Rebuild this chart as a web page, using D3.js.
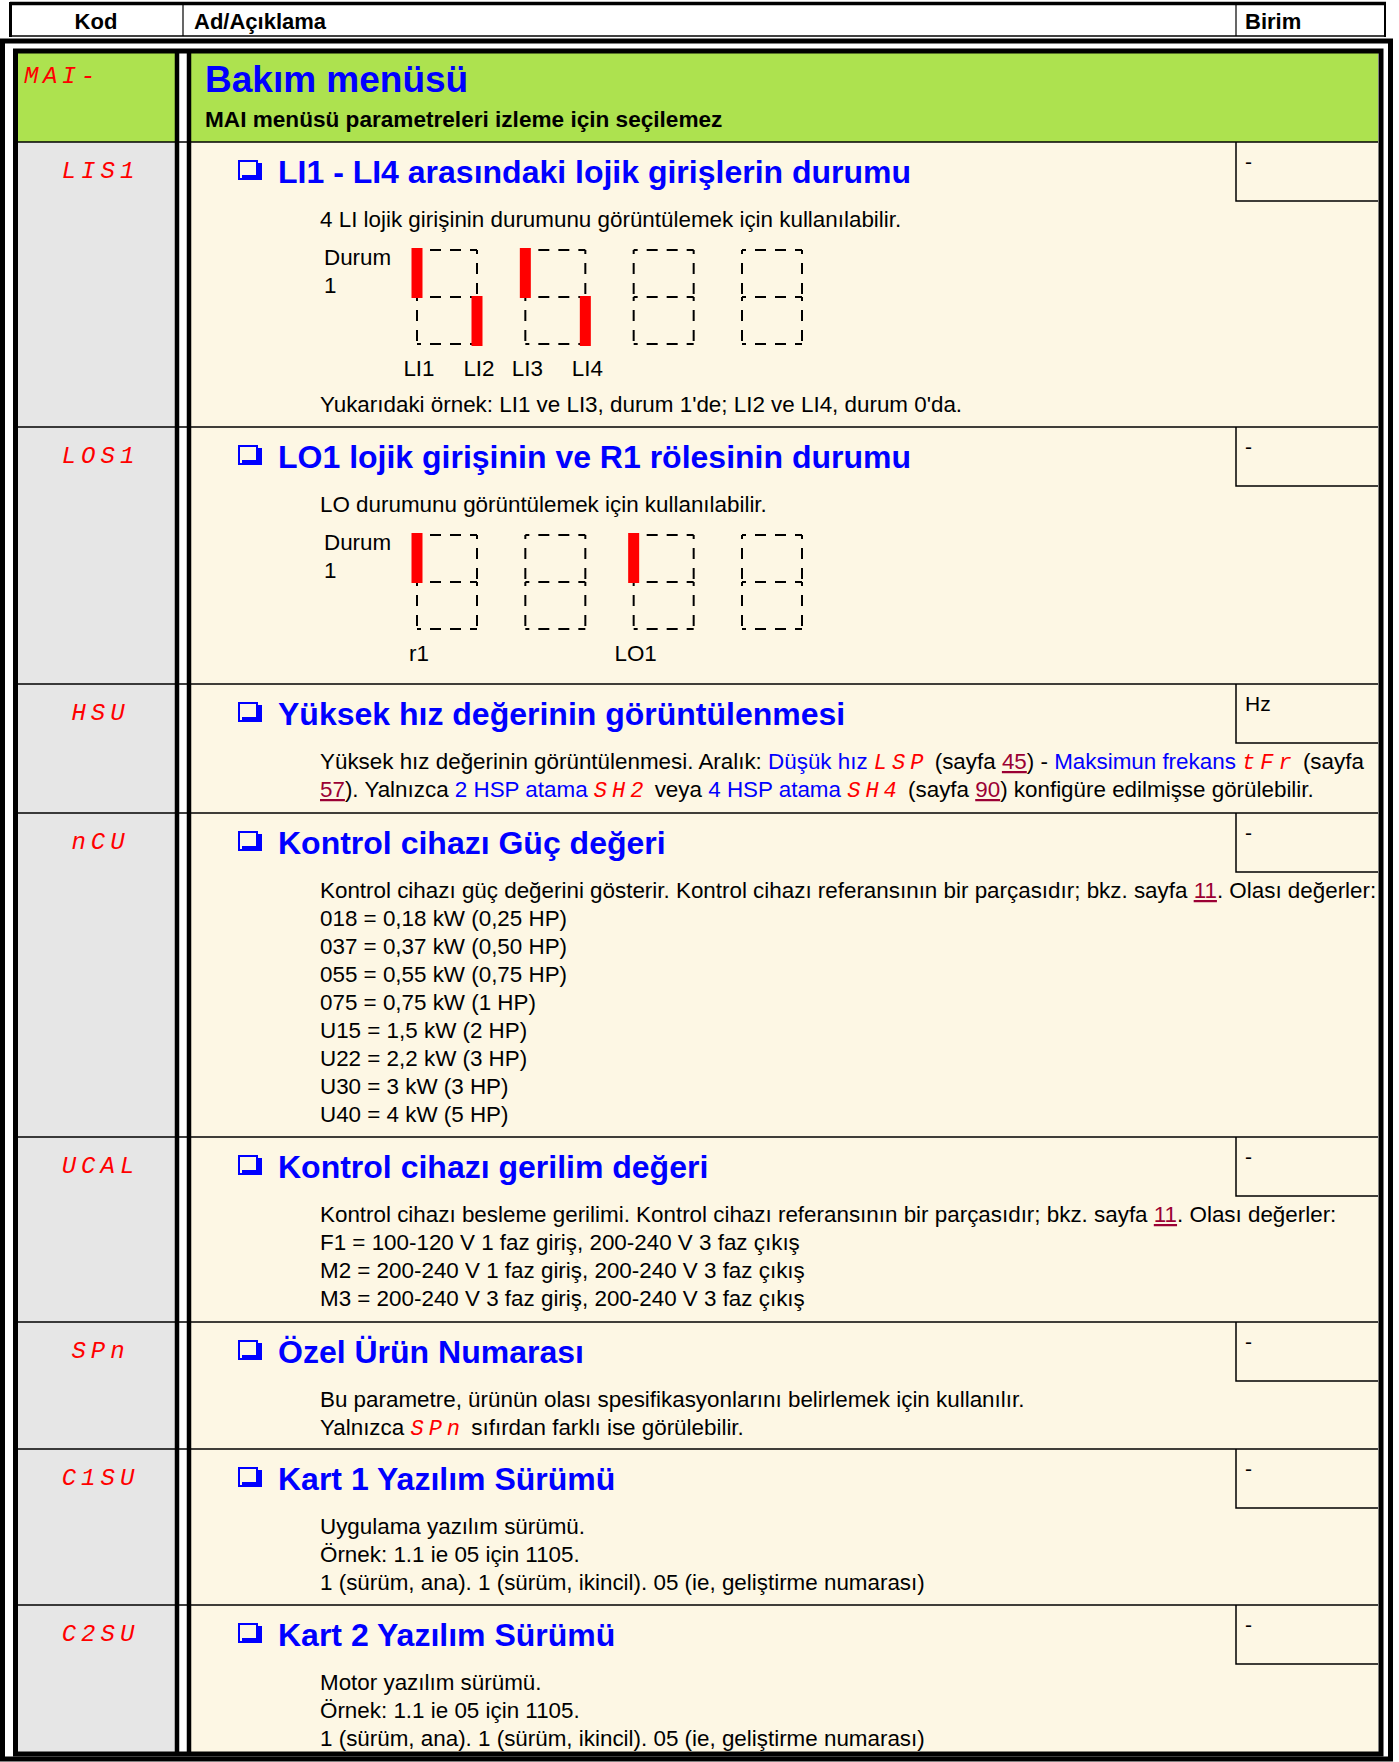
<!DOCTYPE html>
<html><head><meta charset="utf-8">
<script src="https://cdn.jsdelivr.net/npm/d3@7"></script>
<style>
body{margin:0;background:#fff}
svg text{white-space:pre}
.hdr{font:bold 22px "Liberation Sans",Arial,sans-serif;fill:#000}
.body{font:22.4px "Liberation Sans",Arial,sans-serif;fill:#000}
.sec{font:bold 32px "Liberation Sans",Arial,sans-serif;fill:#0000ff}
.seg{font-family:"Liberation Mono",monospace;font-style:italic;fill:#ff0000}
.unit{font:21px "Liberation Sans",Arial,sans-serif;fill:#000}
</style>
</head><body><div id="c"></div>
<script>
// ---------- data ----------
const headerLabels = ["Kod", "Ad/Açıklama", "Birim"];
const menuCode = "MAI-";
const menuTitle = "Bakım menüsü";
const menuNote = "MAI menüsü parametreleri izleme için seçilemez";
const codes = ["LIS1", "LOS1", "HSU", "nCU", "UCAL", "SPn", "C1SU", "C2SU"];
const titles = [
  "LI1 - LI4 arasındaki lojik girişlerin durumu",
  "LO1 lojik girişinin ve R1 rölesinin durumu",
  "Yüksek hız değerinin görüntülenmesi",
  "Kontrol cihazı Güç değeri",
  "Kontrol cihazı gerilim değeri",
  "Özel Ürün Numarası",
  "Kart 1 Yazılım Sürümü",
  "Kart 2 Yazılım Sürümü"
];
const units = ["-", "-", "Hz", "-", "-", "-", "-", "-"];
const stateLabels = ["Durum", "1"];
const diagramBoxes = [0, 1, 2, 3];
const liLabels = ["LI1", "LI2", "LI3", "LI4"];
const liStates = [1, 0, 1, 0];
const liSlots = [0, 1, 2, 3];
const loLabels = ["r1", "LO1"];
const loStates = [1, 1];
const loSlots = [0, 4];
// body lines: each line is a list of [text, kind]; n=normal b=blue l=link c=code
const bodyLIS1 = [[["4 LI lojik girişinin durumunu görüntülemek için kullanılabilir.", "n"]]];
const bodyLIS1After = [[["Yukarıdaki örnek: LI1 ve LI3, durum 1'de; LI2 ve LI4, durum 0'da.", "n"]]];
const bodyLOS1 = [[["LO durumunu görüntülemek için kullanılabilir.", "n"]]];
const bodyHSU = [
  [["Yüksek hız değerinin görüntülenmesi. Aralık: ", "n"], ["Düşük hız", "b"], [" ", "n"], ["LSP", "c"],
   [" (sayfa ", "n"], ["45", "l"], [") - ", "n"], ["Maksimun frekans", "b"], [" ", "n"], ["tFr", "c"], [" (sayfa", "n"]],
  [["57", "l"], ["). Yalnızca ", "n"], ["2 HSP atama", "b"], [" ", "n"], ["SH2", "c"], [" veya ", "n"],
   ["4 HSP atama", "b"], [" ", "n"], ["SH4", "c"], [" (sayfa ", "n"], ["90", "l"], [") konfigüre edilmişse görülebilir.", "n"]]
];
const bodyNCU = [
  [["Kontrol cihazı güç değerini gösterir. Kontrol cihazı referansının bir parçasıdır; bkz. sayfa ", "n"], ["11", "l"], [". Olası değerler:", "n"]],
  [["018 = 0,18 kW (0,25 HP)", "n"]],
  [["037 = 0,37 kW (0,50 HP)", "n"]],
  [["055 = 0,55 kW (0,75 HP)", "n"]],
  [["075 = 0,75 kW (1 HP)", "n"]],
  [["U15 = 1,5 kW (2 HP)", "n"]],
  [["U22 = 2,2 kW (3 HP)", "n"]],
  [["U30 = 3 kW (3 HP)", "n"]],
  [["U40 = 4 kW (5 HP)", "n"]]
];
const bodyUCAL = [
  [["Kontrol cihazı besleme gerilimi. Kontrol cihazı referansının bir parçasıdır; bkz. sayfa ", "n"], ["11", "l"], [". Olası değerler:", "n"]],
  [["F1 = 100-120 V 1 faz giriş, 200-240 V 3 faz çıkış", "n"]],
  [["M2 = 200-240 V 1 faz giriş, 200-240 V 3 faz çıkış", "n"]],
  [["M3 = 200-240 V 3 faz giriş, 200-240 V 3 faz çıkış", "n"]]
];
const bodySPn = [
  [["Bu parametre, ürünün olası spesifikasyonlarını belirlemek için kullanılır.", "n"]],
  [["Yalnızca ", "n"], ["SPn", "c"], [" sıfırdan farklı ise görülebilir.", "n"]]
];
const bodyC1SU = [
  [["Uygulama yazılım sürümü.", "n"]],
  [["Örnek: 1.1 ie 05 için 1105.", "n"]],
  [["1 (sürüm, ana). 1 (sürüm, ikincil). 05 (ie, geliştirme numarası)", "n"]]
];
const bodyC2SU = [
  [["Motor yazılım sürümü.", "n"]],
  [["Örnek: 1.1 ie 05 için 1105.", "n"]],
  [["1 (sürüm, ana). 1 (sürüm, ikincil). 05 (ie, geliştirme numarası)", "n"]]
];
const bodies = [bodyLIS1, bodyLOS1, bodyHSU, bodyNCU, bodyUCAL, bodySPn, bodyC1SU, bodyC2SU];

// ---------- layout ----------
const W = 1399, H = 1762;
const GREEN = "#ade24f", CREAM = "#fdf7e4", GRAY = "#e6e6e6", BLUE = "#0000ff", LINK = "#9b0034", RED = "#ff0000";
const rowEdges = [142, 427, 684, 813, 1137, 1322, 1449, 1605, 1753];
const rowY = d3.scaleOrdinal().domain(codes).range(rowEdges.slice(0, -1));
const kodL = 18, kodR = 175, conL = 191, conR = 1378, unitX = 1236;
const textX = 320, lineH = 28;

const svg = d3.select("#c").append("svg").attr("width", W).attr("height", H).style("display", "block");
svg.append("rect").attr("width", W).attr("height", H).attr("fill", "#fff");

// backgrounds
svg.append("rect").attr("x", kodL).attr("y", 53).attr("width", kodR - kodL).attr("height", 89).attr("fill", GREEN);
svg.append("rect").attr("x", conL).attr("y", 53).attr("width", conR - conL).attr("height", 89).attr("fill", GREEN);
svg.append("rect").attr("x", kodL).attr("y", 142).attr("width", kodR - kodL).attr("height", 1753 - 142).attr("fill", GRAY);
svg.append("rect").attr("x", conL).attr("y", 142).attr("width", conR - conL).attr("height", 1753 - 142).attr("fill", CREAM);

// row separators
svg.selectAll("line.row").data(rowEdges.slice(0, -1)).join("line").attr("class", "row")
  .attr("x1", kodL).attr("x2", conR).attr("y1", d => d).attr("y2", d => d)
  .attr("stroke", "#000").attr("stroke-width", 1.6);

// unit boxes
const ug = svg.append("g");
codes.forEach((c, i) => {
  const y0 = rowY(c);
  ug.append("path").attr("d", `M${unitX},${y0} V${y0 + 59} H${conR}`)
    .attr("fill", "none").attr("stroke", "#000").attr("stroke-width", 1.5);
  ug.append("text").attr("class", "unit").attr("x", 1245).attr("y", y0 + 27).text(units[i]);
});

// double vertical line between code and content
[177, 189].forEach(x => svg.append("line").attr("x1", x).attr("x2", x).attr("y1", 51).attr("y2", 1754)
  .attr("stroke", "#000").attr("stroke-width", 4.5));
// inner and outer frames
svg.append("rect").attr("x", 15.5).attr("y", 51).attr("width", 1381 - 15.5).attr("height", 1754 - 51)
  .attr("fill", "none").attr("stroke", "#000").attr("stroke-width", 5);
svg.append("rect").attr("x", 2.5).attr("y", 41).attr("width", 1390.5 - 2.5).attr("height", 1759 - 41)
  .attr("fill", "none").attr("stroke", "#000").attr("stroke-width", 5);

// header box
const hg = svg.append("g");
hg.append("line").attr("x1", 10).attr("x2", 1386).attr("y1", 3.5).attr("y2", 3.5).attr("stroke", "#000").attr("stroke-width", 3.5);
hg.append("line").attr("x1", 10.5).attr("x2", 10.5).attr("y1", 2).attr("y2", 37).attr("stroke", "#000").attr("stroke-width", 3);
hg.append("line").attr("x1", 1385).attr("x2", 1385).attr("y1", 2).attr("y2", 37).attr("stroke", "#000").attr("stroke-width", 2);
hg.append("line").attr("x1", 10).attr("x2", 1386).attr("y1", 36).attr("y2", 36).attr("stroke", "#000").attr("stroke-width", 1.5);
[183, 1236].forEach(x => hg.append("line").attr("x1", x).attr("x2", x).attr("y1", 4).attr("y2", 36).attr("stroke", "#000").attr("stroke-width", 1.2));
hg.append("text").attr("class", "hdr").attr("x", 96).attr("y", 29).attr("text-anchor", "middle").text(headerLabels[0]);
hg.append("text").attr("class", "hdr").attr("x", 194).attr("y", 29).text(headerLabels[1]);
hg.append("text").attr("class", "hdr").attr("x", 1245).attr("y", 29).text(headerLabels[2]);

// seven-segment style codes
function codeText(g, x, y, str, size, spacing, anchorMid) {
  const adv = size * 0.6;
  const w = str.length * adv + (str.length - 1) * spacing;
  g.append("text").attr("class", "seg").attr("x", anchorMid ? x - w / 2 : x).attr("y", y)
    .style("font-size", size + "px").style("letter-spacing", spacing + "px").text(str);
}
codeText(svg, 24, 83, menuCode, 24, 4.5, false);
codes.forEach(c => codeText(svg, 98, rowY(c) + 36, c, 24, 5, true));

// menu title
svg.append("text").attr("x", 205).attr("y", 92).style("font", "bold 37px 'Liberation Sans',Arial,sans-serif")
  .attr("fill", BLUE).text(menuTitle);
svg.append("text").attr("x", 205).attr("y", 127).style("font", "bold 22.6px 'Liberation Sans',Arial,sans-serif")
  .attr("fill", "#000").text(menuNote);

// section titles with drop-shadow check box bullet
codes.forEach((c, i) => {
  const y0 = rowY(c);
  const b = svg.append("g").attr("transform", `translate(238,${y0 + 18})`);
  b.append("path").attr("d", "M4,20 H24 V3 H19 V15 H4 Z").attr("fill", BLUE);
  b.append("rect").attr("x", 1).attr("y", 1).attr("width", 18).attr("height", 18)
    .attr("fill", "none").attr("stroke", BLUE).attr("stroke-width", 2);
  svg.append("text").attr("class", "sec").attr("x", 278).attr("y", y0 + 41).text(titles[i]);
});

// body lines
function addLine(g, x, y, segs) {
  const t = g.append("text").attr("class", "body").attr("x", x).attr("y", y);
  segs.forEach(([txt, kind]) => {
    const ts = t.append("tspan").text(txt);
    if (kind === "b") ts.attr("fill", BLUE);
    if (kind === "l") ts.attr("fill", LINK).style("text-decoration", "underline");
    if (kind === "c") ts.attr("class", "seg").style("font-size", "22px").style("letter-spacing", "5px");
  });
}
codes.forEach((c, i) => {
  const y0 = rowY(c);
  bodies[i].forEach((line, j) => addLine(svg, textX, y0 + 85 + j * lineH, line));
});
bodyLIS1After.forEach((line, j) => addLine(svg, textX, rowY("LIS1") + 270 + j * lineH, line));

// state diagrams
const bx = d3.scaleLinear().domain([0, 3]).range([417, 742]);
const boxW = 60, halfH = 47;
function diagram(top, labels, states, slots) {
  const g = svg.append("g");
  g.append("text").attr("class", "body").attr("x", 324).attr("y", top + 15).text(stateLabels[0]);
  g.append("text").attr("class", "body").attr("x", 324).attr("y", top + 43).text(stateLabels[1]);
  const dash = g => g.attr("stroke", "#000").attr("stroke-width", 2).attr("stroke-dasharray", "11,9").attr("stroke-dashoffset", 7);
  diagramBoxes.forEach(b => {
    const x0 = bx(b), x1 = x0 + boxW;
    [top, top + halfH, top + 2 * halfH].forEach(y => g.append("line").attr("x1", x0).attr("x2", x1).attr("y1", y).attr("y2", y).call(dash));
    [x0, x1].forEach(x => [top, top + halfH].forEach(y => g.append("line").attr("x1", x).attr("x2", x).attr("y1", y).attr("y2", y + halfH).call(dash)));
  });
  const edge = s => bx(Math.floor(s / 2)) + (s % 2) * boxW;
  const sy = d3.scaleOrdinal().domain([1, 0]).range([top - 2, top + halfH - 1]);
  g.selectAll("rect.bar").data(states).join("rect").attr("class", "bar")
    .attr("x", (d, i) => edge(slots[i]) - 5.5).attr("width", 11)
    .attr("y", d => sy(d)).attr("height", halfH + 3).attr("fill", RED);
  g.selectAll("text.lab").data(labels).join("text").attr("class", "body lab")
    .attr("x", (d, i) => edge(slots[i]) + 2).attr("y", top + 126).attr("text-anchor", "middle").text(d => d);
}
diagram(250, liLabels, liStates, liSlots);
diagram(535, loLabels, loStates, loSlots);
</script>
</body></html>
